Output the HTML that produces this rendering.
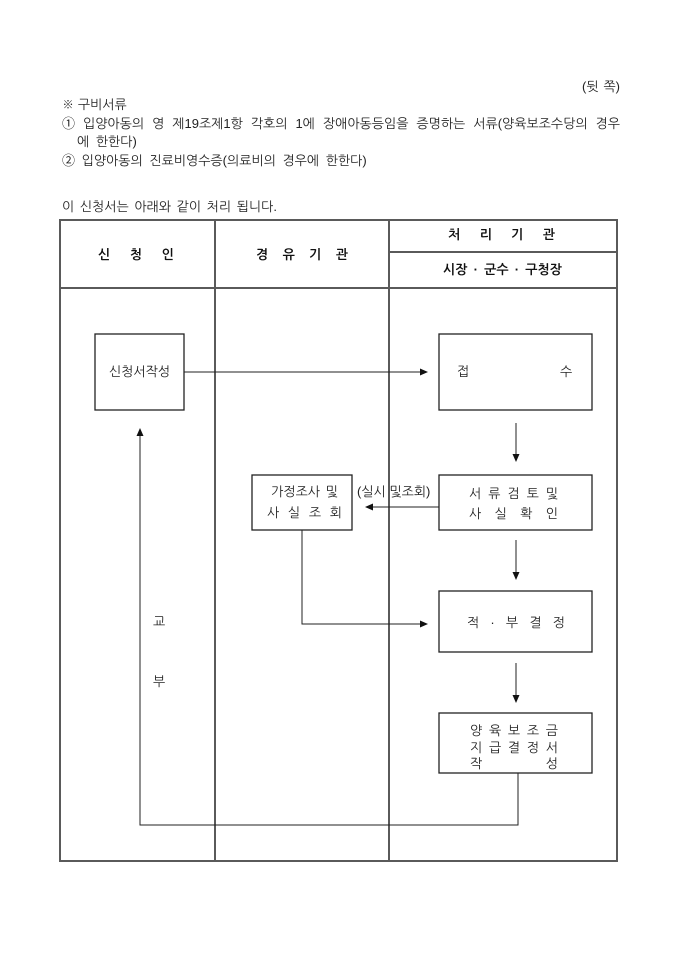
<!DOCTYPE html>
<html><head><meta charset="utf-8">
<style>
html,body{margin:0;padding:0;background:#fff;}
body{width:680px;height:962px;position:relative;overflow:hidden;font-family:"Liberation Sans","NanumGothic","Noto Sans CJK KR",sans-serif;font-size:13px;color:#222;}
.t{position:absolute;height:16px;line-height:16px;white-space:nowrap;}
.j{position:absolute;height:16px;line-height:16px;display:flex;justify-content:space-between;white-space:nowrap;}
.b{font-weight:bold;color:#111;}
svg{position:absolute;left:0;top:0;}
</style></head><body>
<svg width="680" height="962" viewBox="0 0 680 962">
<g fill="none" stroke="#5a5a5a" stroke-width="2">
<rect x="60" y="220" width="557" height="641"/>
<line x1="215" y1="220" x2="215" y2="861"/>
<line x1="389" y1="220" x2="389" y2="861"/>
<line x1="389" y1="252" x2="617" y2="252"/>
<line x1="60" y1="288" x2="617" y2="288"/>
</g>
<g fill="#fff" stroke="#222" stroke-width="1.3">
<rect x="95" y="334" width="89" height="76"/>
<rect x="439" y="334" width="153" height="76"/>
<rect x="439" y="475" width="153" height="55"/>
<rect x="252" y="475" width="100" height="55"/>
<rect x="439" y="591" width="153" height="61"/>
<rect x="439" y="713" width="153" height="60"/>
</g>
<g fill="none" stroke="#222" stroke-width="1">
<line x1="184" y1="372" x2="421" y2="372"/>
<line x1="516" y1="423" x2="516" y2="455"/>
<line x1="439" y1="507" x2="372" y2="507"/>
<polyline points="302,530 302,624 421,624"/>
<line x1="516" y1="540" x2="516" y2="573"/>
<line x1="516" y1="663" x2="516" y2="696"/>
<polyline points="518,773 518,825 140,825 140,435"/>
</g>
<g fill="#111" stroke="none">
<polygon points="428,372 420,368.5 420,375.5"/>
<polygon points="516,462 512.5,454 519.5,454"/>
<polygon points="365,507 373,503.5 373,510.5"/>
<polygon points="428,624 420,620.5 420,627.5"/>
<polygon points="516,580 512.5,572 519.5,572"/>
<polygon points="516,703 512.5,695 519.5,695"/>
<polygon points="140,428 136.5,436 143.5,436"/>
</g>
</svg>

<!-- top text -->
<div class="j" style="left:582px;top:79px;width:38px;"><span>(뒷</span><span>쪽)</span></div>
<div class="t" style="left:62px;top:97px;">※ 구비서류</div>
<div class="j" style="left:62px;top:116px;width:558px;"><span>①</span><span>입양아동의</span><span>영</span><span>제19조제1항</span><span>각호의</span><span>1에</span><span>장애아동등임을</span><span>증명하는</span><span>서류(양육보조수당의</span><span>경우</span></div>
<div class="t" style="left:77px;top:134px;word-spacing:3px;">에 한한다)</div>
<div class="t" style="left:62px;top:153px;word-spacing:3px;">② 입양아동의 진료비영수증(의료비의 경우에 한한다)</div>
<div class="t" style="left:62px;top:199px;word-spacing:2px;">이 신청서는 아래와 같이 처리 됩니다.</div>

<!-- header -->
<div class="j b" style="left:98px;top:247px;width:76px;"><span>신</span><span>청</span><span>인</span></div>
<div class="j b" style="left:256px;top:247px;width:92px;"><span>경</span><span>유</span><span>기</span><span>관</span></div>
<div class="j b" style="left:448px;top:227px;width:107px;"><span>처</span><span>리</span><span>기</span><span>관</span></div>
<div class="j b" style="left:443px;top:262px;width:119px;"><span>시장</span><span>·</span><span>군수</span><span>·</span><span>구청장</span></div>

<!-- boxes text -->
<div class="t" style="left:95px;top:364px;width:89px;text-align:center;">신청서작성</div>
<div class="t" style="left:457px;top:364px;">접</div>
<div class="t" style="left:560px;top:364px;">수</div>
<div class="j" style="left:469px;top:486px;width:89px;"><span>서</span><span>류</span><span>검</span><span>토</span><span>및</span></div>
<div class="j" style="left:469px;top:506px;width:89px;"><span>사</span><span>실</span><span>확</span><span>인</span></div>
<div class="t" style="left:267px;top:484px;width:75px;text-align:center;word-spacing:2px;">가정조사 및</div>
<div class="j" style="left:267px;top:505px;width:75px;"><span>사</span><span>실</span><span>조</span><span>회</span></div>
<div class="t" style="left:357px;top:484px;">(실시 및조회)</div>
<div class="j" style="left:467px;top:615px;width:98px;"><span>적</span><span>·</span><span>부</span><span>결</span><span>정</span></div>
<div class="j" style="left:470px;top:723px;width:88px;"><span>양</span><span>육</span><span>보</span><span>조</span><span>금</span></div>
<div class="j" style="left:470px;top:740px;width:88px;"><span>지</span><span>급</span><span>결</span><span>정</span><span>서</span></div>
<div class="j" style="left:470px;top:756px;width:88px;"><span>작</span><span>성</span></div>
<div class="t" style="left:153px;top:614px;">교</div>
<div class="t" style="left:153px;top:674px;">부</div>
</body></html>
